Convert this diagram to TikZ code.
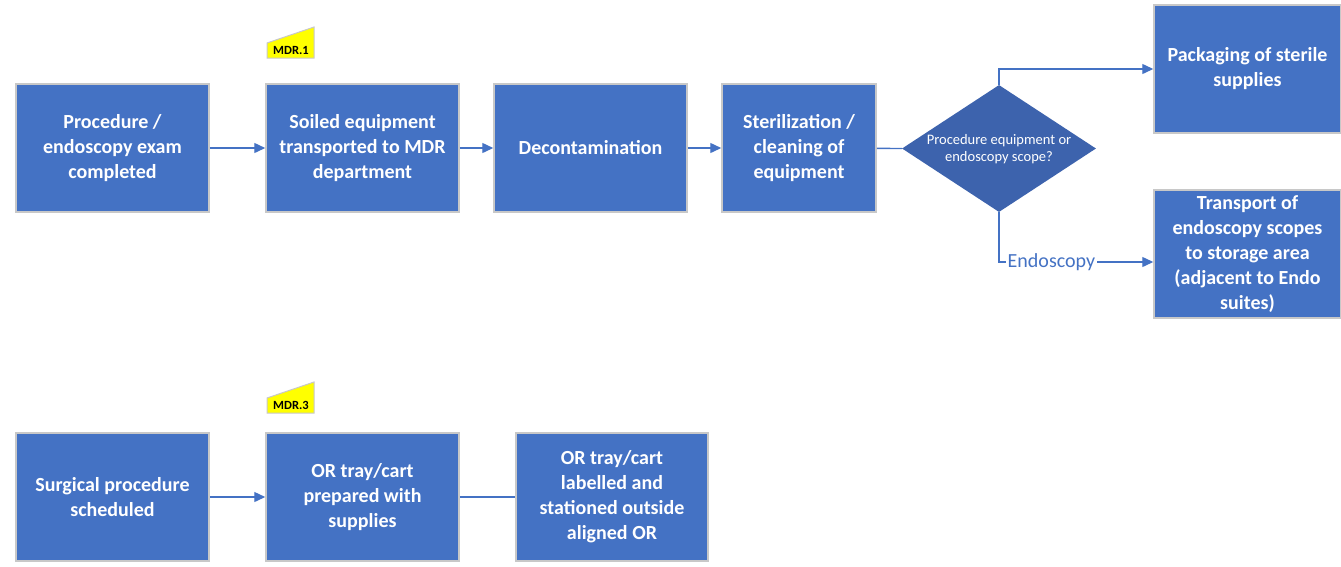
\documentclass[tikz,border=0pt]{standalone}
\usepackage{fontspec}
\setmainfont{Carlito}
\usetikzlibrary{arrows.meta,shapes.geometric}
\definecolor{flowblue}{HTML}{4472C4}
\definecolor{decblue}{HTML}{3D63AD}
\definecolor{edgegrey}{HTML}{C8C8C8}
\definecolor{tagyellow}{HTML}{FFFF00}
\begin{document}
\begin{tikzpicture}[x=1pt,y=-1pt,
  stepbox/.style={draw=edgegrey,line width=1.5pt,fill=flowblue,text=white,
    font=\fontsize{20}{25}\selectfont\bfseries,align=center,inner sep=0pt,
    minimum width=193pt,minimum height=128pt},
  flow/.style={draw=flowblue,line width=1.4pt},
  arr/.style={flow,-{Triangle[length=11pt,width=10pt]}},
  tag/.style={fill=tagyellow,draw=edgegrey,line width=1pt},
  tagtext/.style={font=\fontsize{12.5}{12.5}\selectfont\bfseries,text=black,inner sep=0pt}
]
\useasboundingbox (0,0) rectangle (1341,566);

% upper process row
\node[stepbox] (done) at (112.5,148) {Procedure /\\endoscopy exam\\completed};
\node[stepbox] (soiled) at (362.5,148) {Soiled equipment\\transported to MDR\\department};
\node[stepbox] (decon) at (590.5,148) {Decontamination};
\node[stepbox,minimum width=154pt] (steril) at (799,148) {Sterilization /\\cleaning of\\equipment};

% decision
\node[diamond,fill=decblue,draw=none,inner sep=0pt,minimum width=194pt,minimum height=127pt,aspect=1.53] (dec) at (999,148.5) {};
\node[text=white,font=\fontsize{14.5}{17}\selectfont,align=center,inner sep=0pt] (dectext) at (999,149.5) {Procedure equipment or\\endoscopy scope?};

% outcomes
\node[stepbox,minimum width=187pt] (pack) at (1247.5,69) {Packaging of sterile\\supplies};
\node[stepbox,minimum width=187pt] (trans) at (1247.5,254) {Transport of\\endoscopy scopes\\to storage area\\(adjacent to Endo\\suites)};

% lower process row
\node[stepbox] (sched) at (112.5,497) {Surgical procedure\\scheduled};
\node[stepbox] (tray) at (362.5,497) {OR tray/cart\\prepared with\\supplies};
\node[stepbox,minimum width=192pt] (label) at (612,497) {OR tray/cart\\labelled and\\stationed outside\\aligned OR};

% MDR tags
\path[tag] (267,58) -- (314,58) -- (314,27) -- (267,43) -- cycle;
\node[tagtext] (mdra) at (291,50.5) {MDR.1};
\path[tag] (267,413) -- (314,413) -- (314,382) -- (267,398) -- cycle;
\node[tagtext] (mdrb) at (291,405.5) {MDR.3};

% connectors
\draw[arr] (done) -- (soiled);
\draw[arr] (soiled) -- (decon);
\draw[arr] (decon) -- (steril);
\draw[flow] (steril) -- (dec.west);
\draw[arr] (dec.north) |- (pack.west);
\draw[arr] (dec.south) |- ([yshift=-8pt]trans.west)
  node[pos=0.67,fill=white,text=flowblue,font=\fontsize{20}{24}\selectfont,inner sep=1.5pt] (endo) {Endoscopy};
\draw[arr] (sched) -- (tray);
\draw[flow] (tray) -- (label);
\end{tikzpicture}
\end{document}
